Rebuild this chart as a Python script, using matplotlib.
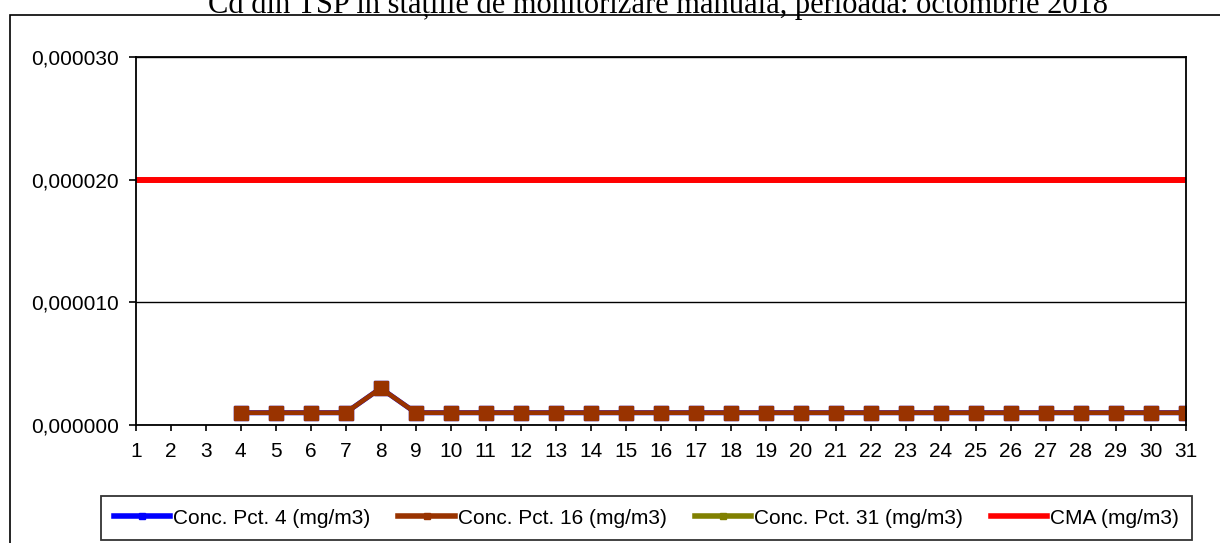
import matplotlib
matplotlib.use("Agg")
import matplotlib.pyplot as plt
import numpy as np
from matplotlib.patches import Rectangle
from matplotlib.lines import Line2D
from matplotlib.ticker import FuncFormatter

plt.rcParams['font.family'] = ['Liberation Sans', 'DejaVu Sans']

days = list(range(1, 32))
nan = np.nan
pct4 = [nan, nan, nan] + [1e-6, 1e-6, 1e-6, 1e-6, 3e-6] + [1e-6] * 23
pct16 = [nan, nan, nan] + [1e-6, 1e-6, 1e-6, 1e-6, 3e-6] + [1e-6] * 23
pct31 = [nan] * 31
cma = [2e-5] * 31

labels = ["Conc. Pct. 4 (mg/m3)", "Conc. Pct. 16 (mg/m3)",
          "Conc. Pct. 31 (mg/m3)", "CMA (mg/m3)"]
title = "Cd din TSP în stațiile de monitorizare manuală, perioada: octombrie 2018"

W, H = 1220, 543
fig = plt.figure(figsize=(12.2, 5.43), dpi=100)
ax = fig.add_axes([135.7 / W, 1 - 425 / H, 1050 / W, 368 / H])

# outer chart frame (runs off the right/bottom edge)
fig.patches.append(Rectangle((9.5 / W, -0.1), 1.2, 1 - 14.7 / H + 0.1,
                             transform=fig.transFigure, fill=False,
                             edgecolor='black', linewidth=1.2))

fig.text(658 / W, 1 - 12.5 / H, title, family='Liberation Serif',
         fontsize=22, ha='center', va='baseline')

ax.plot(days, pct4, color='#0000FF', lw=3.6, marker='s', ms=9.5,
        label=labels[0])
ax.plot(days, pct16, color='#993300', lw=3.4, marker='s', ms=9.5,
        label=labels[1])
ax.plot(days, pct31, color='#808000', lw=3.4, marker='s', ms=9.5,
        label=labels[2])
ax.plot(days, cma, color='#FF0000', lw=4.3, label=labels[3])

ax.set_xlim(1, 31)
ax.set_ylim(0, 0.00003)
ax.set_xticks(days)
ax.set_yticks([0, 0.00001, 0.00002, 0.00003])
ax.yaxis.set_major_formatter(FuncFormatter(lambda v, p: f"{v:.6f}".replace('.', ',')))
ax.grid(axis='y', color='black', lw=1)
ax.set_axisbelow(True)
for s in ax.spines.values():
    s.set_linewidth(1.3)
ax.tick_params(axis='y', direction='out', length=5, width=1.2, pad=7, labelsize=15)
ax.tick_params(axis='x', direction='out', length=4, width=1.2, pad=8, labelsize=15)

cols = ['#0000FF', '#993300', '#808000', '#FF0000']
handles = [Line2D([], [], color=c, lw=4, marker=('s' if i < 3 else None), ms=5)
           for i, c in enumerate(cols)]
leg = fig.legend(handles, labels, loc='center', ncol=4,
                 bbox_to_anchor=(646.5 / W, 1 - 518 / H), fontsize=15,
                 frameon=True, fancybox=False, edgecolor='black',
                 handlelength=2.7, handletextpad=0.15, columnspacing=1.35,
                 borderpad=0.6)
leg.get_frame().set_linewidth(1.3)

fig.savefig("out.png", dpi=100)
